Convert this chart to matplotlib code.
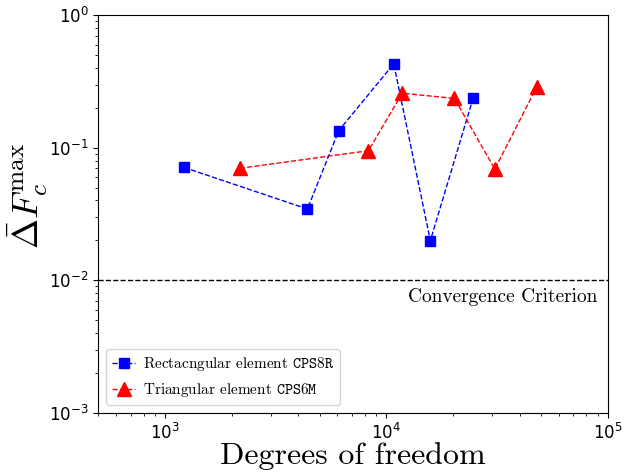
import matplotlib
matplotlib.use("Agg")
import matplotlib.pyplot as plt

# rectangular elements CPS8R
dof_rect = [1220, 4400, 6100, 10800, 15800, 24700]
err_rect = [0.071, 0.0345, 0.135, 0.43, 0.0199, 0.239]

# triangular elements CPS6M
dof_tri = [2180, 8300, 11800, 20300, 30900, 47700]
err_tri = [0.070, 0.095, 0.258, 0.236, 0.069, 0.286]

criterion = 1e-2

fig = plt.figure(figsize=(6.32, 4.72), dpi=100)
ax = fig.add_axes([0.1556, 0.1256, 0.806, 0.842])

ax.plot(dof_rect, err_rect, 'bs--', markersize=7.5, linewidth=1,
        label=r'Rectacngular element $\mathtt{CPS8R}$')
ax.plot(dof_tri, err_tri, 'r^--', markersize=9.5, linewidth=1,
        label=r'Triangular element $\mathtt{CPS6M}$')
ax.axhline(criterion, color='k', linestyle='--', linewidth=1)
ax.text(9.0e4, 0.0088, 'Convergence Criterion', family='cmr10',
        fontsize=14, ha='right', va='top')

ax.set_xscale('log')
ax.set_yscale('log')
ax.set_xlim(500, 1e5)
ax.set_ylim(1e-3, 1)
ax.tick_params(labelsize=12)

ax.set_xlabel('Degrees of freedom', family='cmr10', fontsize=23, labelpad=0)
ax.set_ylabel(r'$\bar{\Delta} F_c^{\max}$', math_fontfamily='cm', fontsize=26)
ax.yaxis.set_label_coords(-0.095, 0.545)

ax.legend(loc='lower left', handlelength=1.5, handletextpad=0.5,
          prop={'family': 'cmr10', 'size': 11, 'math_fontfamily': 'cm'})

fig.savefig('out.png', dpi=100)
